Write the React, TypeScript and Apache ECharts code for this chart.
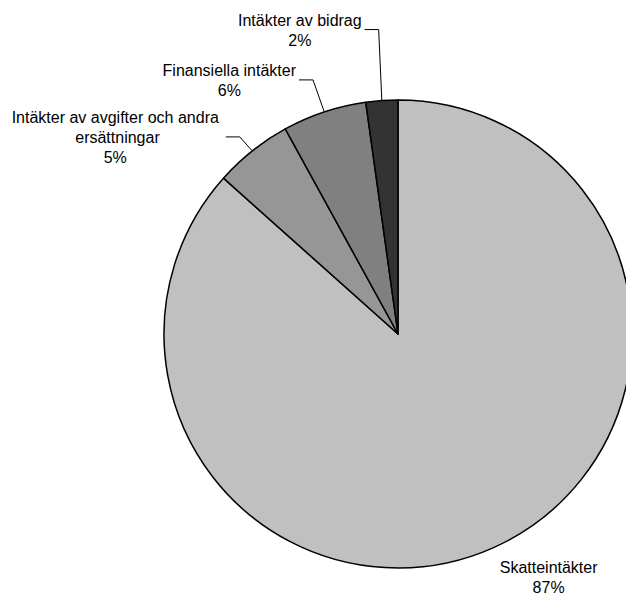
import React, { useEffect, useRef } from "react";
import * as echarts from "echarts";

const categories = [
  "Skatteintäkter",
  "Intäkter av avgifter och andra ersättningar",
  "Finansiella intäkter",
  "Intäkter av bidrag",
];
const values = [86.6, 5.4, 5.8, 2.2];
const colors = ["#C0C0C0", "#969696", "#808080", "#333333"];

const CX = 398;
const CY = 334;
const R = 234;

// label centre offset from the slice's outer mid point
const labelOffsets: { dx: number; dy: number; line: boolean }[] = [
  { dx: 55, dy: 30, line: false },
  { dx: -137, dy: -13, line: true },
  { dx: -95, dy: -31, line: true },
  { dx: -82, dy: -70, line: true },
];

function anchorOf(i: number): [number, number] {
  const total = values.reduce((a, b) => a + b, 0);
  let cum = 0;
  for (let k = 0; k < i; k++) cum += values[k];
  const mid = (cum + values[i] / 2) / total;
  const th = mid * Math.PI * 2;
  return [CX + R * Math.sin(th), CY - R * Math.cos(th)];
}

export default function App() {
  const ref = useRef<HTMLDivElement>(null);
  useEffect(() => {
    if (!ref.current) return;
    const chart = echarts.init(ref.current, null, { renderer: "svg" });
    chart.setOption({
      animation: false,
      backgroundColor: "#ffffff",
      series: [
        {
          type: "pie",
          center: [CX, CY],
          radius: R,
          startAngle: 90,
          clockwise: true,
          avoidLabelOverlap: false,
          itemStyle: { borderColor: "#000000", borderWidth: 1.5 },
          emphasis: { disabled: true },
          label: {
            show: true,
            position: "outside",
            color: "#000000",
            fontFamily: "Arial, 'Liberation Sans', sans-serif",
            fontSize: 16,
            lineHeight: 20,
            align: "center",
            formatter: (p: any) => `${p.name}\n${Math.round(p.percent)}%`,
          },
          labelLine: {
            show: true,
            lineStyle: { color: "#000000", width: 1 },
          },
          labelLayout: (params: any) => {
            const i = params.dataIndex;
            const [ax, ay] = anchorOf(i);
            const o = labelOffsets[i];
            const lx = ax + o.dx;
            const ly = ay + o.dy;
            const res: any = {
              x: lx,
              y: ly,
              align: "center",
              verticalAlign: "middle",
            };
            if (o.line) {
              const w = params.labelRect ? params.labelRect.width : 100;
              const endX = lx + w / 2 + 3;
              res.labelLinePoints = [
                [ax, ay],
                [endX + 14, ly - 1],
                [endX, ly - 1],
              ];
            }
            return res;
          },
          data: categories.map((name, i) => ({
            name,
            value: values[i],
            itemStyle: { color: colors[i] },
            labelLine: { show: labelOffsets[i].line },
            label:
              i === 1
                ? { width: 215, overflow: "break" }
                : {},
          })),
        },
      ],
    });
    return () => chart.dispose();
  }, []);
  return (
    <div
      ref={ref}
      style={{ position: "absolute", left: 0, top: 0, width: 626, height: 593 }}
    />
  );
}
